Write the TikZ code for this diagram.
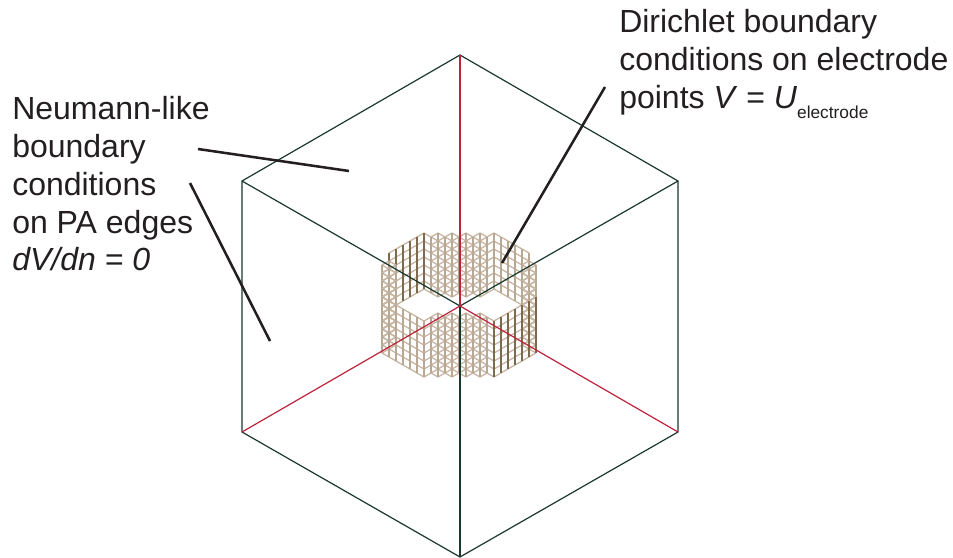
\documentclass[tikz,border=0pt]{standalone}
\usepackage{fontspec}
\setmainfont{Liberation Sans}
\usetikzlibrary{positioning,calc}
\definecolor{boxgreen}{RGB}{24,56,44}
\definecolor{axisred}{RGB}{190,35,60}
\definecolor{ringlight}{RGB}{200,183,165}
\definecolor{ringmid}{RGB}{185,168,148}
\definecolor{ringdark}{RGB}{125,105,75}
\definecolor{leader}{RGB}{35,31,32}
\tikzset{
  boxedge/.style={boxgreen, line width=0.9pt},
  axisedge/.style={axisred, line width=0.9pt},
  leaderline/.style={leader, line width=1.9pt},
  callout/.style={align=left, anchor=north west, inner sep=0pt, text=leader,
    font=\fontsize{24}{28.4}\selectfont}
}
\begin{document}
\begin{tikzpicture}[x=0.75pt, y=-0.75pt,
    declare function={octn(\a,\b)=max(abs(\a),abs(\b),0.72*(abs(\a)+abs(\b)));
      onring(\a,\b)=and(and(octn(\a,\b)<=8.1,octn(\a,\b)>(max(abs(\a),abs(\b))<7?6.4:7.2)),\a+\b!=-5);}]
  \useasboundingbox (0,0) rectangle (953,557);
  % cube corners
  \coordinate (C) at (460,306);
  \coordinate (T) at (460,55);
  \coordinate (B) at (460,557);
  \coordinate (UL) at (242,181);
  \coordinate (UR) at (678,181);
  \coordinate (LL) at (242,432);
  \coordinate (LR) at (678,432);
  % electrode ring
  \foreach \i in {-8,...,8} {
    \foreach \j in {-8,...,8} {
      \pgfmathtruncatemacro{\inring}{onring(\i,\j)}
      \pgfmathtruncatemacro{\ina}{onring(\i+1,\j)}
      \pgfmathtruncatemacro{\inb}{onring(\i,\j+1)}
      \pgfmathtruncatemacro{\onflat}{abs(\i)==8}
      \ifnum\inring=1
        \pgfmathsetmacro{\px}{459+7*(\i-\j)}
        \pgfmathsetmacro{\py}{333+4*(\i+\j)}
        \foreach \k in {0,...,7} {
          \ifnum\ina=1 \draw[ringlight, line width=1pt] (\px,\py-8*\k) -- ++(7,4); \fi
          \ifnum\inb=1 \draw[ringlight, line width=1pt] (\px,\py-8*\k) -- ++(-7,4); \fi
        }
        \ifnum\onflat=1
          \draw[ringdark, line width=0.9pt] (\px,\py) -- (\px,\py-56);
        \else
          \draw[ringmid, line width=0.9pt] (\px,\py) -- (\px,\py-56);
        \fi
      \fi
    }
  }
  % cube
  \draw[boxedge] (T) -- (UR) -- (LR) -- (B) -- (LL) -- (UL) -- cycle;
  \draw[boxedge] (C) -- (UL);
  \draw[boxedge] (C) -- (UR);
  \draw[boxedge] (C) -- (B);
  \draw[axisedge] (C) -- (T);
  \draw[axisedge] (C) -- (LL);
  \draw[axisedge] (C) -- (LR);
  % labels
  \node[callout] (neumann) at (12,96) {Neumann-like\\boundary\\conditions\\on PA edges\\\textit{dV/dn = 0}};
  \node[callout] (dirichlet) at (619,9) {Dirichlet boundary\\conditions on electrode\\points \textit{V} = \textit{U}\raisebox{-0.6ex}{\fontsize{13}{14}\selectfont electrode}};
  % leaders
  \coordinate (na) at (198,149);
  \coordinate (nb) at (349,171);
  \coordinate (nc) at (190,183);
  \coordinate (nd) at (270,341);
  \coordinate (da) at (605,87);
  \coordinate (db) at (502,263);
  \draw[leaderline] (na) -- (nb);
  \draw[leaderline] (nc) -- (nd);
  \draw[leaderline] (da) -- (db);
\end{tikzpicture}
\end{document}
